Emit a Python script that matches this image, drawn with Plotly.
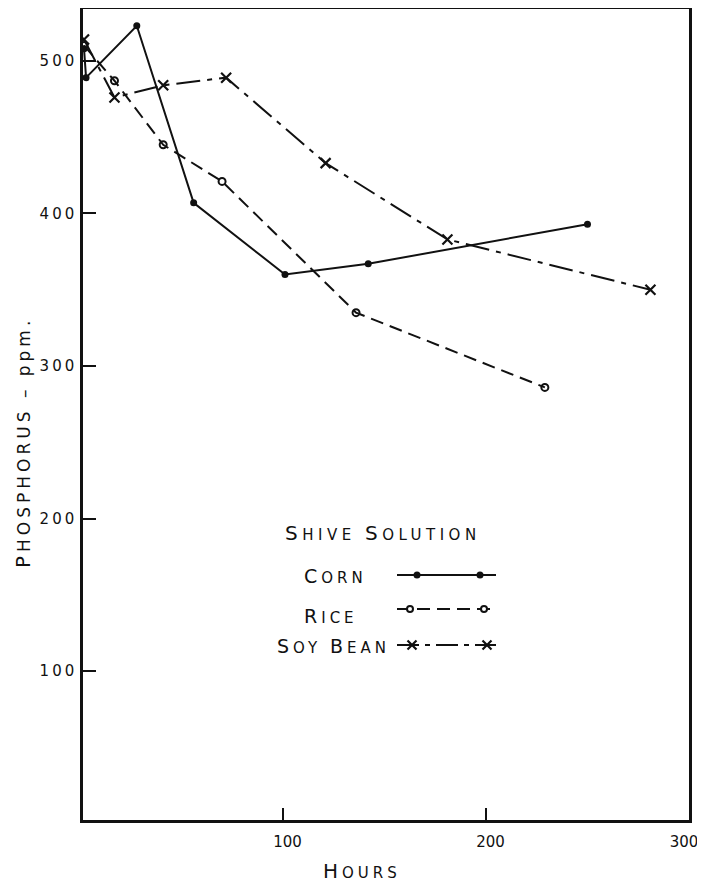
import plotly.graph_objects as go

# ---- data ----
corn_hours = [2, 3, 28, 56, 101, 142, 250]
corn_ppm = [508, 489, 523, 407, 360, 367, 393]

rice_hours = [2, 17, 41, 70, 136, 229]
rice_ppm = [510, 487, 445, 421, 335, 286]

soy_hours = [2, 17, 41, 72, 121, 181, 281]
soy_ppm = [514, 476, 484, 489, 433, 383, 350]

x_ticks = [100, 200, 300]
y_ticks = [100, 200, 300, 400, 500]

FONT = "DejaVu Sans"
INK = "#111111"

# The page body has an 8px margin; the figure is sized so it fits the window.
OFF = 8
FIG_W, FIG_H = 705 - OFF, 882 - OFF
PLOT_L, PLOT_R, PLOT_T, PLOT_B = 83, 689, 9, 820  # screen px of the frame

fig = go.Figure()

fig.add_trace(go.Scatter(
    x=corn_hours, y=corn_ppm, mode="lines+markers", name="Corn",
    line=dict(color=INK, width=2),
    marker=dict(symbol="circle", size=7, color=INK),
    showlegend=False))
fig.add_trace(go.Scatter(
    x=rice_hours, y=rice_ppm, mode="lines+markers", name="Rice",
    line=dict(color=INK, width=2, dash="13px,7px"),
    marker=dict(symbol="circle-open", size=7, color=INK, line=dict(width=2)),
    showlegend=False))
fig.add_trace(go.Scatter(
    x=soy_hours, y=soy_ppm, mode="lines+markers", name="Soy Bean",
    line=dict(color=INK, width=2, dash="24px,7px,5px,7px"),
    marker=dict(symbol="x-thin-open", size=10, color=INK, line=dict(width=2.2, color=INK)),
    showlegend=False))


def px(sx):  # screen x -> paper fraction
    return (sx - PLOT_L) / float(PLOT_R - PLOT_L)


def py(sy):  # screen y -> paper fraction
    return (PLOT_B - sy) / float(PLOT_B - PLOT_T)


# ---- hand-drawn style legend (text left, sample right) on overlay paper-like axes ----
leg_x0, leg_x1 = px(397), px(496)
legend_rows = [
    # y, line dash, marker xs, marker style
    (575, "solid", [417, 480], dict(symbol="circle", size=7, color=INK)),
    (609, "13px,7px", [410, 484], dict(symbol="circle", size=6, color="white",
                                      line=dict(width=2, color=INK))),
    (645, "22px,6px,5px,6px", [412, 487], dict(symbol="x-thin-open", size=9, color=INK,
                                               line=dict(width=2.2, color=INK))),
]
for ly, dash, mxs, mk in legend_rows:
    fig.add_trace(go.Scatter(x=[leg_x0, leg_x1], y=[py(ly)] * 2, mode="lines",
                             line=dict(color=INK, width=2, dash=dash),
                             xaxis="x2", yaxis="y2", showlegend=False, hoverinfo="skip"))
    fig.add_trace(go.Scatter(x=[px(m) for m in mxs], y=[py(ly)] * 2, mode="markers",
                             marker=mk, xaxis="x2", yaxis="y2",
                             showlegend=False, hoverinfo="skip"))


def sc(big, small, bs=19, ss=15, ls=4):
    return (f'<span style="font-size:{bs}px;letter-spacing:{ls}px">{big}</span>'
            f'<span style="font-size:{ss}px;letter-spacing:{ls}px">{small}</span>')


annotations = [
    dict(text=sc("S", "HIVE ", 20, 15, 4.5) + sc("S", "OLUTION", 20, 15, 4.5),
         x=px(383), y=py(533)),
    dict(text=sc("C", "ORN"), x=px(335), y=py(576)),
    dict(text=sc("R", "ICE"), x=px(331), y=py(616)),
    dict(text=sc("S", "OY ") + sc("B", "EAN"), x=px(333), y=py(646)),
    dict(text=sc("H", "OURS", 20, 15, 4), x=px(362), y=py(871)),
    dict(text=sc("P", "HOSPHORUS", 20, 17, 4)
         + '<span style="font-size:17px;letter-spacing:4px"> \u2013 ppm.</span>',
         x=px(23), y=py(443), textangle=-90),
]
for a in annotations:
    a.update(xref="paper", yref="paper", showarrow=False,
             xanchor="center", yanchor="middle")

NB = "\u00a0"
x_ticktext = [NB * 4 + "100", NB * 4 + "200", "300"]
y_ticktext = [f'<span style="letter-spacing:3px">{v}</span>' for v in y_ticks]

fig.update_layout(
    width=FIG_W, height=FIG_H,
    margin=dict(l=PLOT_L - OFF, r=FIG_W - (PLOT_R - OFF), t=PLOT_T - OFF,
                b=FIG_H - (PLOT_B - OFF), autoexpand=False),
    paper_bgcolor="white", plot_bgcolor="white",
    font=dict(family=FONT, color=INK, size=15),
    xaxis=dict(range=[1.5, 300], tickvals=x_ticks, ticktext=x_ticktext,
               ticks="inside", ticklen=12, tickwidth=2, tickcolor=INK,
               showline=True, linewidth=2.5, linecolor=INK, mirror=True,
               showgrid=False, zeroline=False, ticklabelstandoff=6, ticklabelshift=-5,
               ticklabeloverflow="allow", tickfont=dict(size=15)),
    yaxis=dict(range=[2.5, 534], tickvals=y_ticks, ticktext=y_ticktext,
               ticks="inside", ticklen=13, tickwidth=2, tickcolor=INK,
               showline=True, linewidth=2.5, linecolor=INK, mirror=True,
               showgrid=False, zeroline=False, tickfont=dict(size=15)),
    xaxis2=dict(range=[0, 1], overlaying="x", visible=False),
    yaxis2=dict(range=[0, 1], overlaying="y", visible=False),
    annotations=annotations,
)

fig.write_html("out.html")
